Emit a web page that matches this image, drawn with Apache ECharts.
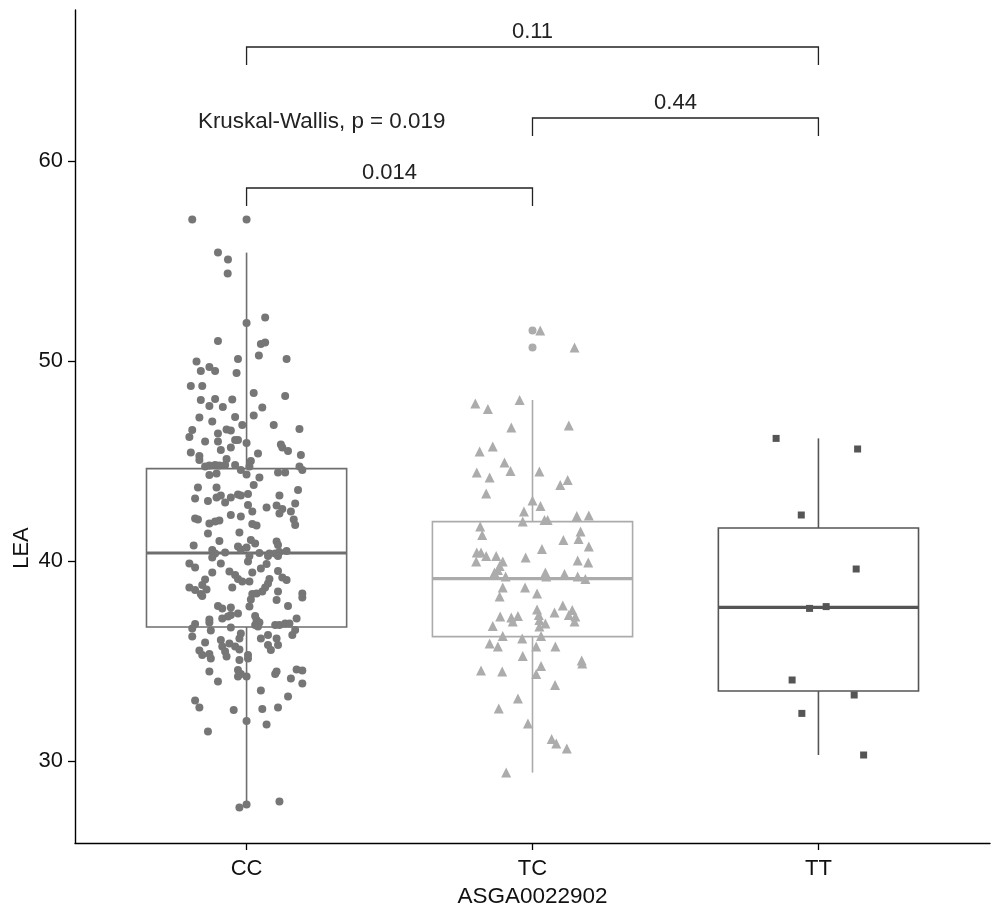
<!DOCTYPE html>
<html lang="en">
<head>
	<meta charset="UTF-8">
	<title>LEA by ASGA0022902</title>
	<script src="https://cdn.jsdelivr.net/npm/echarts@6/dist/echarts.min.js"></script>
</head>
<body style="margin:0;">
	<div id="chart" style="width: 1000px; height: 913px;"></div>
	<script type="text/javascript">
		const categories = ['CC', 'TC', 'TT'];
		const yTicks = [30, 40, 50, 60];

		// [jitter (category units), LEA]
		const ccPoints = [
			[-0.19, 57.08], [-0.10, 55.42], [-0.065, 55.08], [-0.066, 54.38], [0.0, 51.9], [0.065, 52.17],
			[-0.10, 51.0], [0.05, 50.85], [0.065, 50.93], [0.043, 50.27], [-0.03, 50.1], [0.14, 50.1],
			[-0.175, 49.97], [-0.16, 49.5], [-0.13, 49.7], [-0.11, 49.5], [-0.035, 49.4], [-0.195, 48.75],
			[-0.155, 48.75], [0.025, 48.4], [0.135, 48.25], [-0.16, 48.05], [-0.11, 48.1], [-0.05, 48.08],
			[-0.13, 47.75], [-0.083, 47.7], [0.055, 47.68], [0.025, 47.28], [-0.04, 47.2], [-0.165, 47.18],
			[-0.12, 46.97], [-0.015, 46.8], [0.095, 46.8], [-0.19, 46.55], [0.185, 46.6], [-0.07, 46.57],
			[-0.055, 46.53], [-0.2, 46.2], [-0.10, 46.37], [-0.145, 45.97], [-0.10, 45.97], [-0.04, 46.05],
			[-0.03, 46.05], [0.0, 45.9], [0.12, 45.83], [0.125, 45.67], [-0.055, 45.67], [-0.09, 45.55],
			[0.145, 45.5], [-0.195, 45.43], [-0.165, 45.25], [-0.165, 45.05], [0.04, 45.38], [0.19, 45.3],
			[-0.07, 45.1], [0.015, 45.0], [-0.04, 44.8], [-0.145, 44.72], [-0.13, 44.78], [-0.11, 44.8],
			[-0.095, 44.77], [-0.075, 44.8], [0.01, 44.72], [-0.02, 44.55], [0.0, 44.33], [-0.13, 44.3],
			[-0.105, 44.37], [0.045, 44.18], [0.11, 44.42], [0.135, 44.42], [0.185, 44.72], [0.195, 44.55],
			[0.025, 43.8], [-0.17, 43.67], [-0.105, 43.68], [0.115, 43.27], [0.18, 43.55], [-0.18, 43.12],
			[-0.135, 43.0], [-0.105, 43.17], [-0.09, 43.28], [-0.075, 42.93], [-0.055, 43.17], [-0.03, 43.33],
			[-0.02, 43.28], [0.005, 43.35], [0.005, 42.8], [0.07, 42.67], [0.105, 42.77], [0.125, 42.6],
			[0.17, 42.88], [0.155, 42.47], [0.115, 42.38], [-0.055, 42.3], [-0.02, 42.22], [0.02, 42.47],
			[-0.18, 42.13], [-0.17, 42.08], [-0.13, 41.88], [-0.11, 41.97], [-0.095, 42.02], [-0.135, 41.38],
			[0.02, 41.85], [0.035, 41.77], [0.165, 42.08], [0.17, 41.8], [-0.025, 41.42], [-0.095, 41.0],
			[0.015, 41.05], [0.03, 40.88], [0.105, 40.97], [0.11, 40.8], [-0.185, 40.77], [-0.03, 40.72],
			[-0.02, 40.58], [0.0, 40.68], [-0.12, 40.55], [-0.11, 40.38], [-0.075, 40.42], [0.045, 40.4],
			[0.08, 40.38], [0.10, 40.38], [0.115, 40.45], [0.14, 40.5], [-0.12, 40.18], [0.01, 40.25],
			[0.005, 39.97], [0.075, 40.25], [0.11, 40.25], [-0.2, 39.88], [-0.18, 39.67], [-0.09, 39.88],
			[0.07, 39.85], [0.05, 39.63], [-0.12, 39.42], [-0.06, 39.47], [-0.04, 39.3], [0.11, 39.5],
			[0.02, 39.42], [-0.03, 39.1], [-0.015, 38.97], [-0.145, 39.08], [0.125, 39.18], [0.14, 39.05],
			[0.08, 39.1], [0.075, 38.88], [0.01, 38.97], [-0.155, 38.8], [-0.14, 38.58], [-0.2, 38.68],
			[-0.18, 38.55], [-0.05, 38.68], [0.065, 38.68], [0.055, 38.47], [-0.16, 38.35], [-0.155, 38.25],
			[0.02, 38.35], [0.015, 38.08], [0.035, 38.38], [0.11, 38.47], [0.105, 38.05], [0.195, 38.38],
			[0.195, 38.17], [0.01, 37.72], [0.145, 37.75], [-0.10, 37.75], [-0.085, 37.63], [-0.055, 37.68],
			[-0.03, 37.38], [-0.085, 37.13], [-0.065, 37.22], [-0.055, 37.3], [-0.13, 37.08], [-0.13, 36.92],
			[0.03, 37.25], [0.035, 37.05], [0.045, 36.92], [0.03, 36.8], [0.04, 36.72], [-0.18, 36.85],
			[-0.19, 36.63], [-0.055, 36.67], [0.10, 36.8], [0.115, 36.8], [0.135, 36.88], [0.15, 36.88],
			[0.175, 37.13], [0.17, 36.55], [0.16, 36.3], [-0.125, 36.52], [-0.02, 36.38], [-0.025, 36.13],
			[-0.19, 36.22], [0.075, 36.3], [0.075, 35.8], [0.05, 36.13], [0.105, 36.13], [0.11, 35.8],
			[-0.145, 35.92], [-0.09, 36.05], [-0.085, 35.72], [-0.06, 35.88], [-0.04, 35.72], [-0.025, 35.58],
			[-0.165, 35.52], [-0.155, 35.3], [-0.13, 35.35], [-0.075, 35.47], [-0.07, 35.22], [0.005, 35.3],
			[0.085, 35.55], [-0.125, 35.13], [-0.025, 35.05], [0.005, 35.13], [-0.03, 34.55], [-0.02, 34.35],
			[-0.03, 34.22], [0.0, 34.22], [-0.13, 34.47], [-0.10, 33.97], [0.10, 34.35], [0.105, 34.47],
			[0.155, 34.13], [0.175, 34.58], [0.195, 34.52], [0.195, 33.88], [0.05, 33.52], [0.145, 33.22],
			[-0.18, 33.02], [-0.165, 32.68], [-0.045, 32.55], [0.055, 32.6], [0.11, 32.68], [0.0, 32.0],
			[0.07, 31.82], [-0.135, 31.47], [-0.025, 27.67], [0.0, 27.83], [0.115, 27.97]
		];

		const tcPoints = [
			[0.027, 51.52], [0.147, 50.68], [-0.2, 47.88], [-0.156, 47.6], [-0.045, 48.05], [-0.074, 46.67],
			[0.127, 46.77], [-0.139, 45.72], [-0.185, 45.47], [-0.098, 44.93], [-0.077, 44.5], [-0.195, 44.43],
			[-0.15, 44.17], [0.024, 44.47], [0.123, 44.05], [0.097, 43.8], [-0.162, 43.38], [0.0, 43.02],
			[0.028, 42.75], [-0.03, 42.47], [-0.034, 41.97], [0.042, 42.05], [0.053, 42.05], [0.155, 42.25],
			[0.197, 42.27], [-0.183, 41.72], [-0.176, 41.3], [0.168, 41.47], [0.161, 41.1], [0.108, 41.05],
			[0.033, 40.6], [0.197, 40.72], [-0.195, 40.42], [-0.18, 40.42], [-0.162, 40.25], [-0.127, 40.25],
			[-0.104, 39.97], [-0.115, 39.75], [-0.197, 39.97], [-0.024, 40.18], [0.158, 40.02], [0.195, 39.92],
			[-0.121, 39.55], [-0.133, 39.42], [0.045, 39.42], [0.048, 39.22], [0.112, 39.35], [-0.094, 39.22],
			[0.158, 39.22], [0.185, 39.1], [-0.104, 38.68], [-0.026, 38.68], [-0.115, 38.22], [0.016, 38.38],
			[0.106, 37.77], [0.016, 37.58], [0.022, 37.3], [0.077, 37.42], [0.139, 37.55], [0.127, 37.3],
			[0.15, 37.22], [-0.113, 37.22], [-0.074, 37.18], [-0.051, 37.25], [-0.139, 36.75], [0.024, 37.05],
			[0.045, 36.88], [0.147, 36.97], [-0.069, 36.97], [0.024, 36.72], [-0.104, 36.25], [-0.036, 36.13],
			[0.03, 36.25], [-0.15, 35.88], [-0.121, 35.72], [0.013, 35.72], [0.08, 35.72], [-0.034, 35.25],
			[0.172, 35.02], [0.174, 34.88], [-0.18, 34.52], [-0.106, 34.47], [0.03, 34.75], [0.013, 34.35],
			[0.079, 33.8], [-0.051, 33.13], [-0.118, 32.63], [-0.016, 31.88], [0.067, 31.1], [0.083, 30.88],
			[0.12, 30.63], [-0.092, 29.42]
		];

		const ttPoints = [
			[-0.148, 46.13], [0.137, 45.6], [-0.06, 42.3], [0.132, 39.6], [-0.031, 37.63],
			[0.027, 37.72], [-0.092, 34.05], [0.125, 33.3], [-0.058, 32.38], [0.158, 30.3]
		];

		// [lower whisker, Q1, median, Q3, upper whisker] per category
		const boxStats = [
			[27.67, 36.7, 40.4, 44.62, 55.42],
			[29.42, 36.22, 39.12, 41.97, 48.05],
			[30.3, 33.5, 37.68, 41.65, 46.13]
		];
		// boxplot outliers: [category index, value]
		const outliers = [[0, 57.08], [1, 51.52], [1, 50.68]];

		// pairwise comparisons
		const compFrom = [0, 1, 0];
		const compTo = [1, 2, 2];
		const compP = ['0.014', '0.44', '0.11'];
		const compY = [58.65, 62.15, 65.7];
		const kwLabel = 'Kruskal-Wallis, p = 0.019';

		const boxColors = ['#6e6e6e', '#ababab', '#555555'];
		const pointColors = ['#767676', '#acacac', '#555555'];
		const FONT = 'Liberation Sans, Arial, sans-serif';

		const chart = echarts.init(document.getElementById('chart'));

		const groups = [ccPoints, tcPoints, ttPoints];
		const shapes = ['circle', 'triangle', 'rect'];
		const sizes = [8, 10, 7];

		const pointSeries = groups.map((pts, g) => ({
			type: 'scatter',
			name: categories[g],
			symbol: shapes[g],
			symbolSize: sizes[g],
			itemStyle: { color: pointColors[g], opacity: 1 },
			z: 5,
			silent: true,
			data: pts.map(p => [g + 1 + p[0], p[1]])
		}));

		const boxData = boxStats.map((s, g) => [g + 1].concat(s));

		const boxSeries = {
			type: 'custom',
			z: 3,
			silent: true,
			data: boxData,
			renderItem: function (params, api) {
				const x = api.value(0);
				const lo = api.value(1), q1 = api.value(2), med = api.value(3), q3 = api.value(4), hi = api.value(5);
				const hw = 0.35;
				const c = boxColors[params.dataIndex];
				const tl = api.coord([x - hw, q3]);
				const br = api.coord([x + hw, q1]);
				const mL = api.coord([x - hw, med]);
				const mR = api.coord([x + hw, med]);
				const top = api.coord([x, hi]);
				const bot = api.coord([x, lo]);
				const ln = { stroke: c, lineWidth: 1.6 };
				return {
					type: 'group',
					children: [
						{ type: 'line', shape: { x1: top[0], y1: top[1], x2: top[0], y2: tl[1] }, style: ln },
						{ type: 'line', shape: { x1: bot[0], y1: br[1], x2: bot[0], y2: bot[1] }, style: ln },
						{ type: 'rect', shape: { x: tl[0], y: tl[1], width: br[0] - tl[0], height: br[1] - tl[1] },
							style: { fill: 'none', stroke: c, lineWidth: 1.6 } },
						{ type: 'line', shape: { x1: mL[0], y1: mL[1], x2: mR[0], y2: mR[1] },
							style: { stroke: c, lineWidth: 3.2 } }
					]
				};
			}
		};

		const outlierSeries = {
			type: 'scatter',
			symbol: 'circle',
			symbolSize: 8,
			z: 4,
			silent: true,
			itemStyle: { opacity: 1, color: p => pointColors[p.data[2]] },
			data: outliers.map(o => [o[0] + 1, o[1], o[0]])
		};

		const compData = compFrom.map((f, i) => [f + 1, compTo[i] + 1, compY[i], i]);
		const bracketSeries = {
			type: 'custom',
			z: 6,
			silent: true,
			data: compData,
			renderItem: function (params, api) {
				const x1 = api.value(0), x2 = api.value(1), y = api.value(2);
				const tip = 0.9;
				const a = api.coord([x1, y - tip]);
				const b = api.coord([x1, y]);
				const c = api.coord([x2, y]);
				const d = api.coord([x2, y - tip]);
				return {
					type: 'group',
					children: [
						{ type: 'polyline', shape: { points: [a, b, c, d] },
							style: { stroke: '#222', lineWidth: 1.3, fill: 'none' } },
						{ type: 'text', x: (b[0] + c[0]) / 2, y: b[1] - 4,
							style: { text: compP[api.value(3)], fill: '#222', font: '22px ' + FONT,
								align: 'center', verticalAlign: 'bottom' } }
					]
				};
			}
		};

		const kwSeries = {
			type: 'custom',
			z: 6,
			silent: true,
			data: [[0.83, 61.95]],
			renderItem: function (params, api) {
				const p = api.coord([api.value(0), api.value(1)]);
				return {
					type: 'text', x: p[0], y: p[1],
					style: { text: kwLabel, fill: '#222', font: '22.4px ' + FONT, align: 'left', verticalAlign: 'middle' }
				};
			}
		};

		chart.setOption({
			animation: false,
			backgroundColor: '#fff',
			grid: { left: 75, right: 10, top: 10, bottom: 70 },
			xAxis: {
				type: 'value',
				min: 0.4,
				max: 3.6,
				name: 'ASGA0022902',
				nameLocation: 'middle',
				nameGap: 40,
				nameTextStyle: { fontFamily: FONT, fontSize: 22.5, color: '#111' },
				axisLine: { lineStyle: { color: '#000', width: 1.4 } },
				axisTick: { customValues: [1, 2, 3], length: 7, lineStyle: { color: '#000', width: 1.3 } },
				axisLabel: {
					customValues: [1, 2, 3],
					formatter: v => categories[Math.round(v) - 1],
					fontFamily: FONT, fontSize: 22, color: '#111', margin: 15
				},
				splitLine: { show: false }
			},
			yAxis: {
				type: 'value',
				min: 25.9,
				max: 67.55,
				axisLine: { show: true, lineStyle: { color: '#000', width: 1.4 } },
				axisTick: { show: true, customValues: yTicks, length: 7, lineStyle: { color: '#000', width: 1.3 } },
				axisLabel: { customValues: yTicks, fontFamily: FONT, fontSize: 22, color: '#111', margin: 12 },
				splitLine: { show: false }
			},
			graphic: [{
				type: 'text',
				x: 11,
				y: 548,
				rotation: Math.PI / 2,
				style: { text: 'LEA', fill: '#111', font: '22px ' + FONT, align: 'center', verticalAlign: 'top' }
			}],
			series: [boxSeries, outlierSeries].concat(pointSeries, [bracketSeries, kwSeries])
		});
	</script>
</body>
</html>
